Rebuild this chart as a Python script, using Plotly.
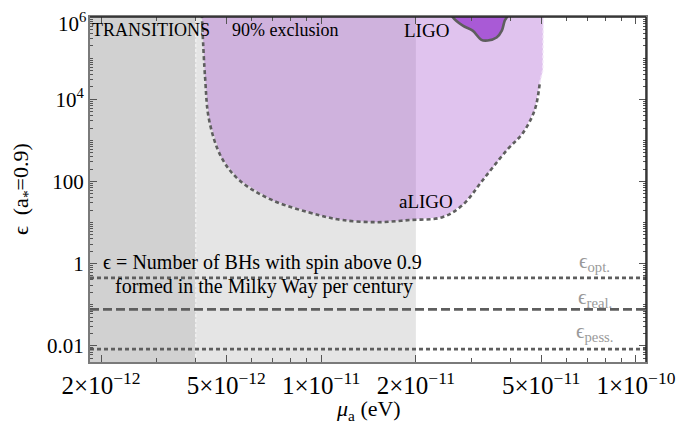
"""Superradiance exclusion plot: aLIGO / LIGO reach vs boson mass."""

import plotly.graph_objects as go

# --- data ------------------------------------------------------------------
# aLIGO 90% exclusion boundary (mass in eV, epsilon)
aligo_mass = [4.18e-12, 4.28e-12, 4.41e-12, 4.82e-12, 5.50e-12, 7.0e-12, 9.9e-12,
              1.17e-11, 1.50e-11, 1.91e-11, 2.43e-11, 2.82e-11, 3.26e-11,
              3.89e-11, 4.37e-11, 4.77e-11, 4.95e-11, 5.06e-11, 5.08e-11]
aligo_eps = [1.2e6, 3.5e4, 3.1e3, 390, 107, 35, 15,
             11.5, 10.2, 11.5, 13.5, 27, 107,
             580, 1500, 5500, 2.5e4, 5.1e4, 1.2e6]

# LIGO blob (clipped at the top of the frame)
ligo_mass = [2.56e-11, 2.62e-11, 2.82e-11, 3.03e-11, 3.23e-11, 3.38e-11, 3.61e-11,
             3.75e-11, 3.83e-11, 3.89e-11, 3.91e-11]
ligo_eps = [1.5e6, 1.0e6, 6.2e5, 4.7e5, 2.8e5, 2.7e5, 3.2e5,
            4.7e5, 8.2e5, 1.0e6, 1.5e6]

# BH formation rate scenarios
eps_levels = {"opt": 0.45, "real": 0.077, "pess": 0.0083}

# shaded mass bands
transition_edge = 4e-12
light_band_edge = 2e-11

x_range = [1.845e-12, 1.077e-10]
y_range_log = [-2.395, 6.003]

x_tickvals = [2e-12, 5e-12, 1e-11, 2e-11, 5e-11, 1e-10]
x_ticktext = ["2×10<sup>−12</sup>", "5×10<sup>−12</sup>", "1×10<sup>−11</sup>",
              "2×10<sup>−11</sup>", "5×10<sup>−11</sup>", "1×10<sup>−10</sup>"]
# the top label (10^6) sits at the very edge, drawn separately so it is not clipped
y_tickvals = [1e6, 1e4, 100, 1, 0.01]
y_ticktext = ["", "10<sup>4</sup>", "100", "1", "0.01"]
y_top_label = "10<sup>6</sup>"

FONT = "Liberation Serif"
LINE_GREY = "#5e5e5e"

fig = go.Figure()

# grey bands (full height)
fig.add_vrect(x0=x_range[0], x1=transition_edge, fillcolor="#d1d1d1", opacity=1,
              line_width=0, layer="below")
fig.add_vrect(x0=transition_edge, x1=light_band_edge, fillcolor="#e5e5e5", opacity=1,
              line_width=0, layer="below")
fig.add_vline(x=transition_edge, line=dict(color="#f4f4f4", width=1.2, dash="3px,2px"),
              layer="below")

# aLIGO region: translucent fill + dotted boundary
fig.add_trace(go.Scatter(
    x=aligo_mass, y=aligo_eps,
    fill="toself", fillcolor="rgba(165,82,206,0.35)",
    line=dict(width=0), mode="lines", hoverinfo="skip", showlegend=False,
))
fig.add_trace(go.Scatter(
    x=aligo_mass[:-2], y=aligo_eps[:-2],
    mode="lines", line=dict(color=LINE_GREY, width=2.6, dash="4px,3px", shape="spline"),
    hoverinfo="skip", showlegend=False,
))
fig.add_trace(go.Scatter(
    x=aligo_mass[-3:], y=aligo_eps[-3:],
    mode="lines", line=dict(color="#f2e6f8", width=1.5, dash="3px,2px"),
    hoverinfo="skip", showlegend=False,
))

# LIGO region
fig.add_trace(go.Scatter(
    x=ligo_mass, y=ligo_eps,
    fill="toself", fillcolor="#a95ad6",
    mode="lines", line=dict(color=LINE_GREY, width=2.6, shape="spline"),
    hoverinfo="skip", showlegend=False,
))

# epsilon scenario lines
dash_styles = {"opt": "4px,3px", "real": "9px,4px", "pess": "4px,3px"}
for key, val in eps_levels.items():
    fig.add_trace(go.Scatter(
        x=x_range, y=[val, val], mode="lines",
        line=dict(color=LINE_GREY, width=2.6, dash=dash_styles[key]),
        hoverinfo="skip", showlegend=False,
    ))

# text labels
def label(text, x, y, size=17, color="black", xanchor="center"):
    fig.add_annotation(text=text, x=x, y=y, xref="paper", yref="paper",
                       showarrow=False, xanchor=xanchor, yanchor="middle",
                       font=dict(family=FONT, size=size, color=color))

label("TRANSITIONS", 0.110, 0.963, size=18)
label("90% exclusion", 0.351, 0.963, size=18)
label("LIGO", 0.606, 0.961, size=19)
label("aLIGO", 0.604, 0.466, size=19)
label("ϵ = Number of BHs with spin above 0.9", 0.019, 0.288, size=20, xanchor="left")
label("formed in the Milky Way per century", 0.041, 0.218, size=20, xanchor="left")
label("ϵ<sub>opt.</sub>", 0.908, 0.290, size=21, color="#9a9a9a")
label("ϵ<sub>real.</sub>", 0.908, 0.186, size=21, color="#9a9a9a")
label("ϵ<sub>pess.</sub>", 0.908, 0.088, size=21, color="#9a9a9a")

# top y tick label
fig.add_annotation(text=y_top_label, x=0, y=1, xref="paper", yref="paper",
                   showarrow=False, xanchor="right", yanchor="top",
                   xshift=-3, yshift=9, borderpad=0,
                   font=dict(family=FONT, size=21, color="black"))

# axis titles
fig.add_annotation(text="<i>μ</i><sub>a</sub> (eV)", x=0.50, y=-0.138,
                   xref="paper", yref="paper", showarrow=False,
                   xanchor="center", yanchor="middle",
                   font=dict(family=FONT, size=22, color="black"))
fig.add_annotation(text="ϵ  (a<sub>*</sub>=0.9)", x=-0.123, y=0.50, textangle=-90,
                   xref="paper", yref="paper", showarrow=False,
                   xanchor="center", yanchor="middle",
                   font=dict(family=FONT, size=22, color="black"))

# frame: grey left/bottom, black top/right
fig.add_shape(type="line", xref="paper", yref="paper", x0=0, x1=1, y0=1, y1=1,
              line=dict(color="#222", width=1.5), layer="above")
fig.add_shape(type="line", xref="paper", yref="paper", x0=1, x1=1, y0=0, y1=1,
              line=dict(color="#222", width=1.5), layer="above")

x_minor = [m * 10.0 ** e for e in (-12, -11) for m in range(2, 10)] + [1e-10]
fig.update_xaxes(
    type="log", range=[-11.734, -9.968], automargin=False,
    tickvals=x_tickvals, ticktext=x_ticktext,
    ticks="inside", ticklen=7, tickcolor="#555", tickwidth=1,
    minor=dict(tickvals=x_minor, ticks="inside", ticklen=4, tickcolor="#555"),
    showline=True, linecolor="#7a7a7a", linewidth=2, mirror="ticks",
    showgrid=False, zeroline=False,
    tickfont=dict(family=FONT, size=25, color="black"),
)
y_minor = [m * 10.0 ** e for e in range(-3, 6) for m in range(1, 10)]
fig.update_yaxes(
    type="log", range=y_range_log, automargin=False,
    tickvals=y_tickvals, ticktext=y_ticktext,
    ticks="inside", ticklen=7, tickcolor="#555", tickwidth=1,
    minor=dict(tickvals=y_minor, ticks="inside", ticklen=3, tickcolor="#555"),
    showline=True, linecolor="#7a7a7a", linewidth=2, mirror="ticks",
    showgrid=False, zeroline=False,
    tickfont=dict(family=FONT, size=21, color="black"),
)

# the page body adds an 8px offset, so the figure is 8px smaller each way
fig.update_layout(
    width=688, height=418,
    margin=dict(l=82, r=50, t=9, b=64, autoexpand=False),
    plot_bgcolor="white", paper_bgcolor="white",
    font=dict(family=FONT, color="black"),
    showlegend=False,
)

fig.write_html("out.html")
